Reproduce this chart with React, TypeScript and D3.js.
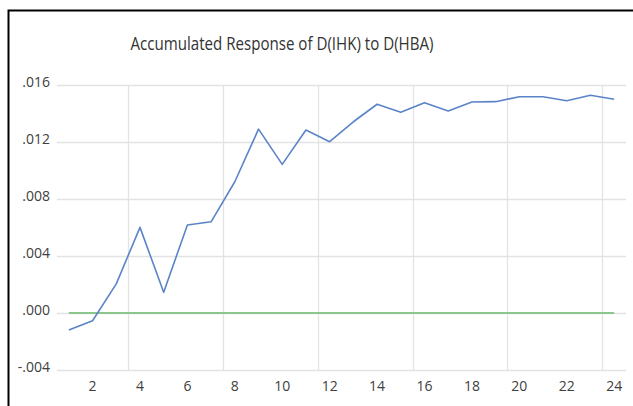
import React, { useEffect, useRef } from "react";
import * as d3 from "d3";

const periods = d3.range(1, 25);
const response = [
  -0.0012, -0.00054, 0.00204, 0.00601, 0.00145, 0.00618, 0.0064, 0.00921,
  0.0129, 0.01043, 0.01284, 0.01202, 0.01342, 0.01465, 0.01408, 0.01476,
  0.01418, 0.01481, 0.01483, 0.01518, 0.01518, 0.0149, 0.01528, 0.015,
];
const zeroLine = periods.map(() => 0);
const yTicks = [-0.004, 0, 0.004, 0.008, 0.012, 0.016];
const xLabels = [2, 4, 6, 8, 10, 12, 14, 16, 18, 20, 22, 24];
const gridAfter = [3, 7, 11, 15, 19, 23];

const W = 633,
  H = 406;
const FONT = "'Open Sans', 'Liberation Sans', sans-serif";

function App() {
  const ref = useRef<SVGSVGElement>(null);

  useEffect(() => {
    const svg = d3.select(ref.current);
    svg.selectAll("*").remove();

    const left = 57,
      right = 626,
      top = 85,
      bottom = 370;

    const x = d3
      .scaleLinear()
      .domain([0.5, 24.5])
      .range([left, right]);
    const y = d3.scaleLinear().domain([-0.004, 0.016]).range([bottom, top]);

    // chart border: only top and left edges are in the crop
    svg
      .append("path")
      .attr("d", `M8.5,${H} V10.5 H${W}`)
      .attr("fill", "none")
      .attr("stroke", "#000")
      .attr("stroke-width", 2);

    svg
      .append("text")
      .attr("x", 282)
      .attr("y", 50)
      .attr("text-anchor", "middle")
      .attr("font-family", FONT)
      .attr("font-size", 18)
      .attr("fill", "#333")
      .attr("textLength", 303)
      .attr("lengthAdjust", "spacingAndGlyphs")
      .text("Accumulated Response of D(IHK) to D(HBA)");

    // horizontal grid
    svg
      .append("g")
      .selectAll("line")
      .data(yTicks)
      .enter()
      .append("line")
      .attr("x1", left)
      .attr("x2", right)
      .attr("y1", (d) => Math.round(y(d)) + 0.5)
      .attr("y2", (d) => Math.round(y(d)) + 0.5)
      .attr("stroke", "#e3e3e3")
      .attr("stroke-width", 1.3);

    // vertical grid
    svg
      .append("g")
      .selectAll("line")
      .data(gridAfter)
      .enter()
      .append("line")
      .attr("x1", (d) => Math.round(x(d + 0.5)) + 0.5)
      .attr("x2", (d) => Math.round(x(d + 0.5)) + 0.5)
      .attr("y1", top)
      .attr("y2", bottom)
      .attr("stroke", "#e3e3e3")
      .attr("stroke-width", 1.3);

    svg
      .append("g")
      .selectAll("text")
      .data(yTicks)
      .enter()
      .append("text")
      .attr("x", 50)
      .attr("y", (d) => y(d) - 3)
      .attr("dy", "0.35em")
      .attr("text-anchor", "end")
      .attr("font-family", FONT)
      .attr("font-size", 14)
      .attr("fill", "#404040")
      .text((d) => (d < 0 ? "-" : "") + d3.format(".3f")(Math.abs(d)).replace(/^0/, ""));

    svg
      .append("g")
      .selectAll("text")
      .data(xLabels)
      .enter()
      .append("text")
      .attr("x", (d) => x(d))
      .attr("y", 386)
      .attr("dy", "0.35em")
      .attr("text-anchor", "middle")
      .attr("font-family", FONT)
      .attr("font-size", 14)
      .attr("fill", "#404040")
      .text((d) => String(d));

    const line = d3
      .line<number>()
      .x((_, i) => x(periods[i]))
      .y((d) => y(d));

    svg
      .append("path")
      .datum(zeroLine)
      .attr("d", line)
      .attr("fill", "none")
      .attr("stroke", "#8cc68c")
      .attr("stroke-width", 1.8);

    svg
      .append("path")
      .datum(response)
      .attr("d", line)
      .attr("fill", "none")
      .attr("stroke", "#5b84c8")
      .attr("stroke-width", 1.6)
      .attr("stroke-linejoin", "round");
  }, []);

  return (
    <svg
      ref={ref}
      width={W}
      height={H}
      style={{ position: "absolute", left: 0, top: 0, background: "white" }}
    />
  );
}

export default App;
